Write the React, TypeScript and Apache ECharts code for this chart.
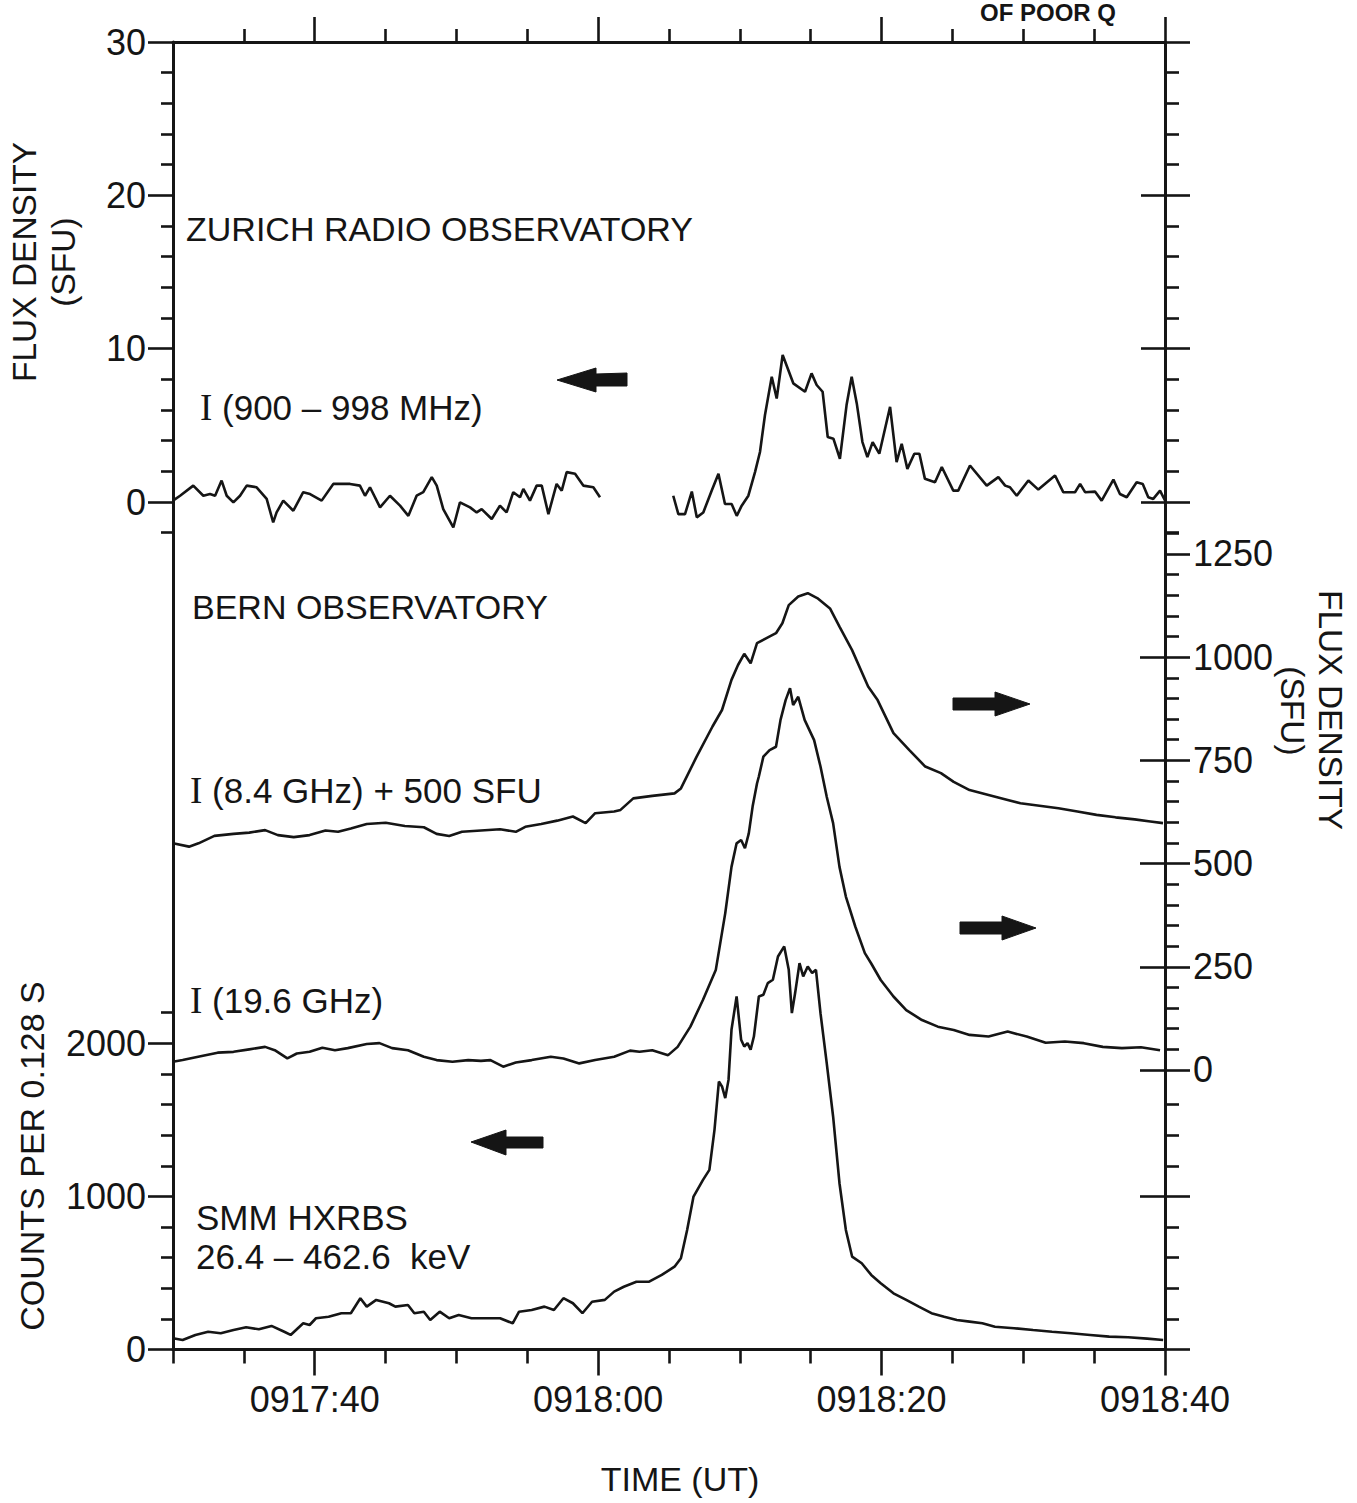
import React, { useEffect, useRef } from "react";
import * as echarts from "echarts";

const FONT = '"Liberation Sans", Arial, Helvetica, sans-serif';
const SERIF = '"Liberation Serif", "DejaVu Serif", serif';
const INK = "#151515";

// ---- time axis: seconds after 09:17:30 UT ----
const timeTickValues = [10, 30, 50, 70];
const timeTickLabels = ["0917:40", "0918:00", "0918:20", "0918:40"];
const timeMinorBottom = [0, 5, 15, 20, 25, 35, 40, 45, 55, 60, 65];
const timeMinorTop = [5, 15, 20, 25, 35, 40, 45, 55, 60, 65];

// ---- left axes ----
const fluxLeftLabels = [0, 10, 20, 30];
const fluxMinorTicks = [-2, 2, 4, 6, 8, 12, 14, 16, 18, 22, 24, 26, 28];
const countsLabels = [0, 1000, 2000];
const countsMinorTicks = [200, 400, 600, 800, 1200, 1400, 1600, 1800, 2200];

// ---- right axes ----
const rightFluxLabels = [0, 250, 500, 750, 1000, 1250];
const rightFluxInner = [0, 250, 500, 750, 1000];
const rightFluxMinor = [50, 100, 150, 200, 300, 350, 400, 450, 550, 600, 650, 700, 800, 850, 900, 950, 1050, 1100, 1150, 1200, 1300];
const rightCountsMajor = [0, 1000];
const rightCountsInner = [1000];
const rightCountsMinor = [200, 400, 600, 800, 1200, 1400, 1600];

// ---- data: [seconds after 09:17:30, value] ----
// Zurich 900-998 MHz (SFU), two segments with a data gap
const zurichEarly = [
  [0, 0.09], [0.5, 0.41], [1.43, 1.07], [2.14, 0.41], [2.61, 0.52], [2.97, 0.41], [3.43, 1.4], [3.79, 0.41],
  [4.26, -0.02], [4.73, 0.41], [5.2, 1.07], [5.9, 0.96], [6.61, 0.2], [7.07, -1.33], [7.31, -0.68], [7.78, 0.09],
  [8.49, -0.57], [9.19, 0.64], [9.67, 0.52], [10.49, 0.09], [11.31, 1.18], [12.49, 1.18], [13.19, 1.07], [13.55, 0.41],
  [13.9, 0.96], [14.61, -0.35], [15.31, 0.41], [16.02, -0.24], [16.61, -0.9], [17.19, 0.41], [17.66, 0.64], [18.26, 1.62],
  [18.61, 1.07], [19.07, -0.46], [19.78, -1.66], [20.25, -0.02], [20.96, -0.35], [21.43, -0.68], [21.78, -0.46], [22.49, -1.11],
  [23.07, -0.24], [23.54, -0.68], [24.01, 0.64], [24.49, 0.31], [24.72, 0.85], [25.19, 0.09], [25.66, 1.07], [26.02, 1.07],
  [26.49, -0.79], [27.07, 1.18], [27.43, 0.74], [27.78, 1.95], [28.37, 1.84], [28.95, 1.07], [29.66, 0.96], [30.13, 0.31],
];
const zurichLate = [
  [35.3, 0.41], [35.66, -0.79], [36.13, -0.79], [36.61, 0.68], [36.96, -1.0], [37.42, -0.68], [38.01, 0.74], [38.49, 1.84],
  [38.95, -0.13], [39.42, -0.13], [39.78, -0.9], [40.13, -0.24], [40.6, 0.41], [41.07, 1.95], [41.42, 3.26], [41.77, 5.66],
  [42.25, 8.17], [42.6, 6.75], [43.02, 9.59], [43.77, 7.74], [44.6, 7.19], [45.06, 8.39], [45.42, 7.63], [45.84, 7.19],
  [46.2, 4.24], [46.6, 4.13], [47.06, 2.82], [47.53, 6.32], [47.89, 8.17], [48.25, 6.43], [48.65, 3.91], [49.0, 2.93],
  [49.37, 3.91], [49.84, 3.15], [50.6, 6.21], [51.06, 2.6], [51.42, 3.8], [51.82, 2.16], [52.31, 3.15], [52.67, 3.15],
  [53.06, 1.51], [53.77, 1.29], [54.25, 2.28], [55.06, 0.74], [55.41, 0.74], [56.24, 2.38], [57.42, 1.07], [58.24, 1.62],
  [58.72, 1.07], [59.06, 0.96], [59.54, 0.41], [60.36, 1.4], [61.06, 0.81], [62.24, 1.73], [62.82, 0.64], [63.65, 0.64],
  [64.01, 1.18], [64.36, 0.64], [65.06, 0.68], [65.53, 0.09], [66.36, 1.46], [66.82, 0.52], [67.3, 0.31], [68.0, 1.29],
  [68.43, 1.18], [68.82, 0.31], [69.17, 0.2], [69.65, 0.74], [70, 0.1],
];
// Bern 8.4 GHz, plotted as I + 500 SFU
const bern84Plus500 = [
  [0, 549], [1.13, 541], [1.8, 549], [2.92, 567], [4.27, 572], [5.38, 575], [6.5, 581], [7.4, 569], [8.52, 564],
  [9.64, 569], [10.76, 580], [11.65, 577], [12.55, 585], [13.67, 596], [15.01, 599], [16.36, 591], [17.7, 588],
  [18.6, 572], [19.49, 567], [20.39, 577], [21.73, 580], [23.08, 583], [24.19, 577], [24.86, 589], [25.98, 596],
  [27.11, 604], [28.22, 614], [29.12, 598], [29.79, 622], [31.13, 626], [31.58, 630], [32.48, 658], [33.82, 664],
  [35.39, 670], [35.84, 682], [36.95, 759], [38.07, 832], [38.74, 872], [39.41, 945], [39.87, 981], [40.31, 1008],
  [40.76, 985], [41.21, 1034], [41.88, 1046], [42.55, 1058], [43.0, 1082], [43.45, 1126], [44.12, 1147], [44.79, 1155],
  [45.46, 1143], [46.36, 1118], [47.03, 1074], [47.92, 1017], [49.05, 929], [49.72, 896], [50.84, 816], [51.96, 775],
  [53.08, 735], [54.19, 719], [55.09, 698], [56.21, 678], [57.55, 666], [58.9, 654], [59.8, 646], [61.14, 640],
  [62.48, 634], [63.82, 626], [65.17, 618], [66.51, 612], [67.86, 607], [68.97, 602], [69.86, 598],
];
// Bern 19.6 GHz (SFU)
const bern196 = [
  [0, 20], [0.68, 24], [2.03, 34], [3.15, 42], [4.27, 44], [5.38, 50], [6.5, 56], [7.18, 48], [8.07, 28], [8.74, 40],
  [9.64, 44], [10.54, 54], [11.43, 48], [12.33, 53], [13.67, 63], [14.57, 65], [15.46, 53], [16.58, 48], [17.7, 32],
  [18.6, 24], [19.72, 20], [20.83, 24], [21.73, 22], [22.4, 24], [23.3, 8], [24.19, 18], [25.31, 24], [26.66, 32],
  [27.55, 28], [28.67, 16], [29.79, 24], [31.13, 32], [32.25, 47], [32.92, 44], [33.82, 48], [34.94, 36], [35.61, 56],
  [36.51, 105], [37.4, 170], [38.3, 242], [38.97, 380], [39.41, 492], [39.77, 549], [40.09, 557], [40.36, 537],
  [40.63, 573], [40.9, 638], [41.21, 694], [41.34, 711], [41.66, 759], [42.1, 775], [42.55, 783], [42.87, 848],
  [43.23, 896], [43.54, 925], [43.76, 884], [44.12, 904], [44.57, 848], [45.24, 799], [45.69, 735], [46.13, 662],
  [46.58, 598], [47.03, 492], [47.48, 420], [48.15, 347], [48.82, 283], [49.27, 258], [49.94, 218], [50.84, 178],
  [51.74, 145], [52.85, 121], [53.97, 105], [55.09, 97], [56.21, 85], [57.55, 81], [58.9, 93], [60.24, 81],
  [61.58, 66], [62.93, 69], [64.27, 65], [65.61, 56], [66.96, 53], [68.3, 55], [69.65, 48],
];
// SMM HXRBS 26.4-462.6 keV (counts per 0.128 s)
const hxrbsCounts = [
  [0, 73], [0.68, 62], [1.58, 95], [2.48, 116], [3.37, 106], [4.27, 127], [5.16, 145], [6.06, 132], [6.95, 154],
  [7.85, 116], [8.3, 95], [9.19, 171], [9.64, 160], [10.09, 204], [10.98, 214], [11.88, 237], [12.55, 237],
  [13.22, 335], [13.67, 280], [14.34, 324], [15.24, 302], [15.69, 280], [16.58, 291], [17.03, 237], [17.7, 247],
  [18.15, 193], [18.82, 247], [19.49, 204], [20.16, 225], [21.06, 204], [22.18, 204], [23.08, 204], [23.97, 171],
  [24.42, 247], [25.31, 258], [26.21, 280], [26.88, 258], [27.55, 335], [28.22, 302], [28.89, 237], [29.57, 312],
  [30.47, 324], [31.13, 378], [31.81, 410], [32.7, 443], [33.6, 443], [34.49, 487], [35.39, 541], [35.84, 596],
  [36.28, 781], [36.73, 999], [37.4, 1108], [37.85, 1173], [38.21, 1435], [38.52, 1750], [38.74, 1718], [38.97, 1642],
  [39.2, 1761], [39.41, 2088], [39.77, 2306], [40.09, 2023], [40.31, 1979], [40.54, 2001], [40.76, 1958], [40.99, 2044],
  [41.34, 2306], [41.66, 2317], [41.97, 2393], [42.33, 2415], [42.69, 2567], [43.13, 2633], [43.45, 2480], [43.67, 2197],
  [43.9, 2328], [44.21, 2524], [44.47, 2437], [44.79, 2502], [45.1, 2459], [45.37, 2480], [45.69, 2197], [46.13, 1871],
  [46.58, 1522], [47.03, 1086], [47.48, 781], [47.92, 607], [48.6, 563], [49.27, 487], [49.94, 433], [50.84, 367],
  [51.74, 324], [52.63, 280], [53.52, 237], [54.42, 214], [55.31, 193], [56.21, 182], [57.11, 171], [58.0, 149],
  [59.35, 139], [60.69, 127], [62.03, 116], [63.37, 106], [64.72, 95], [66.06, 84], [67.4, 80], [68.74, 71], [69.87, 62],
];

// ---- axis ranges matching the figure's stacked panels ----
const FLUX_MIN = -55.27, FLUX_MAX = 30;
const COUNTS_MIN = 0, COUNTS_MAX = 8540;
const RIGHT_MIN = -677, RIGHT_MAX = 2490;

const lineSt = { color: INK, width: 2.6 };
const labelBase = { fontSize: 36, fontFamily: FONT, color: INK };

function yAx(o: any) {
  return {
    type: "value",
    min: o.min,
    max: o.max,
    position: o.position,
    offset: 0,
    axisLine: { show: !!o.line, onZero: false, lineStyle: { color: INK, width: 3 } },
    axisTick: {
      show: true,
      inside: !!o.inside,
      length: o.length,
      customValues: o.ticks,
      lineStyle: { color: INK, width: 2.6 },
    },
    axisLabel: o.labels
      ? { show: true, customValues: o.labels, margin: o.margin, formatter: (v: number) => String(Math.round(v)), ...labelBase }
      : { show: false },
    splitLine: { show: false },
    minorTick: { show: false },
  };
}

function xAx(o: any) {
  return {
    type: "value",
    min: 0,
    max: 70,
    position: o.position,
    offset: 0,
    axisLine: { show: !!o.line, onZero: false, lineStyle: { color: INK, width: 3 } },
    axisTick: { show: true, inside: false, length: o.length, customValues: o.ticks, lineStyle: { color: INK, width: 2.6 } },
    axisLabel: o.labels
      ? {
          show: true,
          customValues: o.labels,
          margin: o.margin,
          formatter: (v: number) => {
            const i = timeTickValues.indexOf(Math.round(v));
            return i >= 0 ? timeTickLabels[i] : "";
          },
          ...labelBase,
        }
      : { show: false },
    splitLine: { show: false },
  };
}

function txt(text: string, x: number, y: number, size = 34, extra: any = {}) {
  return {
    type: "text",
    x,
    y,
    silent: true,
    style: {
      text,
      fill: INK,
      fontSize: size,
      fontFamily: FONT,
      align: "left",
      verticalAlign: "middle",
      textAlign: "left",
      textVerticalAlign: "middle",
      ...extra,
    },
  };
}

function rot(text: string, x: number, y: number, angle: number, size = 33.5) {
  return {
    type: "text",
    x,
    y,
    rotation: angle,
    silent: true,
    style: {
      text,
      fill: INK,
      fontSize: size,
      fontFamily: FONT,
      align: "center",
      verticalAlign: "middle",
      textAlign: "center",
      textVerticalAlign: "middle",
    },
  };
}

function arrow(points: number[][]) {
  return { type: "polygon", silent: true, shape: { points }, style: { fill: INK, stroke: INK, lineWidth: 1 } };
}

const serifI = { rich: { s: { fontFamily: SERIF, fontSize: 37, fill: INK } } };

const option: any = {
  animation: false,
  backgroundColor: "#ffffff",
  grid: { left: 173, top: 42, width: 992, height: 1307.5, containLabel: false },
  xAxis: [
    xAx({ position: "bottom", line: true, length: 26, ticks: timeTickValues, labels: timeTickValues, margin: 32 }),
    xAx({ position: "bottom", length: 14, ticks: timeMinorBottom }),
    xAx({ position: "top", line: true, length: 25, ticks: timeTickValues }),
    xAx({ position: "top", length: 13, ticks: timeMinorTop }),
  ],
  yAxis: [
    // 0 flux (top panel), left
    yAx({ min: FLUX_MIN, max: FLUX_MAX, position: "left", line: true, length: 25, ticks: fluxLeftLabels, labels: fluxLeftLabels, margin: 27 }),
    yAx({ min: FLUX_MIN, max: FLUX_MAX, position: "left", length: 12, ticks: fluxMinorTicks }),
    // 2 counts, left
    yAx({ min: COUNTS_MIN, max: COUNTS_MAX, position: "left", length: 25, ticks: countsLabels, labels: countsLabels, margin: 27 }),
    yAx({ min: COUNTS_MIN, max: COUNTS_MAX, position: "left", length: 12, ticks: countsMinorTicks }),
    // 4 flux (top panel), right
    yAx({ min: FLUX_MIN, max: FLUX_MAX, position: "right", line: true, length: 25, ticks: fluxLeftLabels }),
    yAx({ min: FLUX_MIN, max: FLUX_MAX, position: "right", inside: true, length: 24, ticks: fluxLeftLabels }),
    yAx({ min: FLUX_MIN, max: FLUX_MAX, position: "right", length: 14, ticks: fluxMinorTicks }),
    // 7 flux (Bern), right
    yAx({ min: RIGHT_MIN, max: RIGHT_MAX, position: "right", length: 25, ticks: rightFluxLabels, labels: rightFluxLabels, margin: 28 }),
    yAx({ min: RIGHT_MIN, max: RIGHT_MAX, position: "right", inside: true, length: 25, ticks: rightFluxInner }),
    yAx({ min: RIGHT_MIN, max: RIGHT_MAX, position: "right", length: 14, ticks: rightFluxMinor }),
    // 10 counts, right
    yAx({ min: COUNTS_MIN, max: COUNTS_MAX, position: "right", length: 25, ticks: rightCountsMajor }),
    yAx({ min: COUNTS_MIN, max: COUNTS_MAX, position: "right", inside: true, length: 25, ticks: rightCountsInner }),
    yAx({ min: COUNTS_MIN, max: COUNTS_MAX, position: "right", length: 14, ticks: rightCountsMinor }),
  ],
  series: [
    { name: "I (900 - 998 MHz) a", type: "line", xAxisIndex: 0, yAxisIndex: 0, data: zurichEarly, symbol: "none", showSymbol: false, lineStyle: lineSt, silent: true },
    { name: "I (900 - 998 MHz) b", type: "line", xAxisIndex: 0, yAxisIndex: 0, data: zurichLate, symbol: "none", showSymbol: false, lineStyle: lineSt, silent: true },
    { name: "I (8.4 GHz) + 500 SFU", type: "line", xAxisIndex: 0, yAxisIndex: 7, data: bern84Plus500, symbol: "none", showSymbol: false, lineStyle: lineSt, silent: true },
    { name: "I (19.6 GHz)", type: "line", xAxisIndex: 0, yAxisIndex: 7, data: bern196, symbol: "none", showSymbol: false, lineStyle: lineSt, silent: true },
    { name: "SMM HXRBS", type: "line", xAxisIndex: 0, yAxisIndex: 2, data: hxrbsCounts, symbol: "none", showSymbol: false, lineStyle: lineSt, silent: true },
  ],
  graphic: [
    rot("FLUX DENSITY", 24, 262, Math.PI / 2),
    rot("(SFU)", 63, 262, Math.PI / 2),
    rot("COUNTS PER 0.128 S", 32, 1156, Math.PI / 2, 34),
    rot("FLUX DENSITY", 1330, 710, -Math.PI / 2),
    rot("(SFU)", 1292, 711, -Math.PI / 2),
    {
      type: "text", x: 680, y: 1479, silent: true,
      style: { text: "TIME (UT)", fill: INK, fontSize: 34, fontFamily: FONT, align: "center", verticalAlign: "middle", textAlign: "center", textVerticalAlign: "middle" },
    },
    {
      type: "text", x: 980, y: 0, silent: true,
      style: { text: "OF POOR Q", fill: INK, fontSize: 24, fontWeight: "bold", fontFamily: FONT, align: "left", verticalAlign: "top", textAlign: "left", textVerticalAlign: "top" },
    },
    txt("ZURICH RADIO OBSERVATORY", 186, 229),
    txt("{s|I} (900 – 998 MHz)", 200, 407, 35, serifI),
    txt("BERN OBSERVATORY", 192, 607),
    txt("{s|I} (8.4 GHz) + 500 SFU", 190, 790, 35, serifI),
    txt("{s|I} (19.6 GHz)", 190, 1000, 35, serifI),
    txt("SMM HXRBS", 196, 1217, 35),
    txt("26.4 – 462.6  keV", 196, 1256, 35),
    arrow([[557, 380], [596, 368], [596, 374], [627, 373], [627, 386], [596, 386], [596, 392]]),
    arrow([[1030, 704], [995, 692], [995, 698], [953, 698], [953, 710], [995, 710], [995, 716]]),
    arrow([[1036, 928], [1002, 916], [1002, 922], [960, 922], [960, 934], [1002, 934], [1002, 940]]),
    arrow([[471, 1142], [506, 1130], [506, 1137], [543, 1137], [543, 1148], [506, 1148], [506, 1155]]),
  ],
};

export default function App() {
  const ref = useRef<HTMLDivElement>(null);
  useEffect(() => {
    if (!ref.current) return;
    const chart = echarts.init(ref.current, null, { renderer: "svg" });
    chart.setOption(option);
    return () => chart.dispose();
  }, []);
  return (
    <div
      ref={ref}
      style={{ position: "fixed", left: 0, top: 0, width: 1357, height: 1503, background: "#ffffff" }}
    />
  );
}
